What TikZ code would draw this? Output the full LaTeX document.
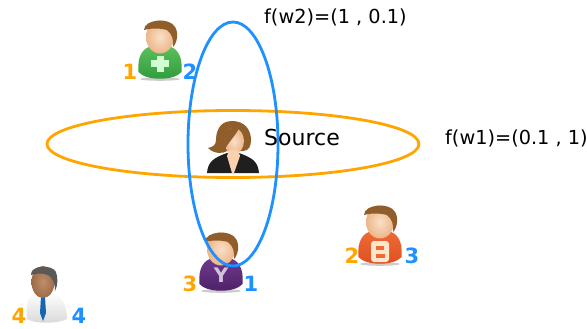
\documentclass[tikz,border=0pt]{standalone}
\usepackage{fontspec}
\setmainfont{DejaVu Sans}
\definecolor{ringorange}{HTML}{FFA500}
\definecolor{ringblue}{HTML}{1E90FF}
\definecolor{hairbrown}{HTML}{8F5E2A}
\definecolor{skin}{HTML}{F8D2AE}
\definecolor{skinedge}{HTML}{EDB68A}
\definecolor{greentop}{HTML}{5CC05C}
\definecolor{greenlow}{HTML}{2E9A3C}
\definecolor{orangetop}{HTML}{EE6A35}
\definecolor{orangelow}{HTML}{DE4E20}
\definecolor{purpletop}{HTML}{6E3A8C}
\definecolor{purplelow}{HTML}{4E2068}
\definecolor{mantan}{HTML}{C08E68}
\definecolor{manedge}{HTML}{9C6B48}
\tikzset{
  ring/.style={line width=2.8pt,draw=#1},
  rank/.style={font=\fontsize{21}{21}\selectfont\bfseries,text=#1,inner sep=0pt},
  caption/.style={font=\fontsize{#1}{#1}\selectfont,text=black,inner sep=0pt,anchor=west}
}
% #1 x, #2 y of head centre, #3 shirt top colour, #4 shirt low colour
\newcommand{\manicon}[4]{%
  \begin{scope}[shift={(#1,#2)}]
    \fill[black!20] (0,41) ellipse[x radius=20,y radius=1.8];
    \shade[top color=#3,bottom color=#4]
      (-21.5,34) .. controls (-23,18) and (-17,9) .. (-7,8)
      -- (7,8) .. controls (17,9) and (23,18) .. (21.5,34)
      .. controls (14,43) and (-14,43) .. (-21.5,34) -- cycle;
    \shade[inner color=skin!70!white,outer color=skinedge]
      (0,-1) ellipse[x radius=14,y radius=16.5];
    \fill[hairbrown]
      (-16,-8) .. controls (-16,-19) and (10,-21) .. (15,-11)
      .. controls (19,-5) and (17,5) .. (13,9)
      .. controls (14,2) and (12,-4) .. (7,-8)
      .. controls (0,-10) and (-9,-10) .. (-16,-8) -- cycle;
  \end{scope}}
\begin{document}
\begin{tikzpicture}[x=1pt,y=-1pt]
\useasboundingbox (0,0) rectangle (587,329);
\fill[white] (0,0) rectangle (587,329);
% green person
\manicon{160}{38}{greentop}{greenlow}
\fill[white!82!green] (156.5,56) rectangle (163.5,72);
\fill[white!82!green] (151,60.5) rectangle (169,67.5);
% blogger person
\manicon{380}{223}{orangetop}{orangelow}
\fill[white!80!orange,rounded corners=3pt] (371,241) rectangle (389,262);
\fill[orangetop] (375.5,246) rectangle (384,250);
\fill[orangetop] (375.5,254) rectangle (384.5,258);
% yahoo person
\manicon{221}{250}{purpletop}{purplelow}
\node[inner sep=0pt,font=\fontsize{20}{20}\selectfont\bfseries,text=white!70!purpletop] (yahoo) at (221,275) {Y};
% man in white shirt
\begin{scope}[shift={(43,283)}]
  \shade[top color=white,bottom color=black!15]
    (-16,36) .. controls (-18,20) and (-14,12) .. (-7,9)
    -- (8,9) .. controls (18,12) and (25,24) .. (24,36)
    .. controls (14,41) and (-8,41) .. (-16,36) -- cycle;
  \fill[ringblue!70!black] (-2,14) -- (2,14) -- (3,30) -- (0,38) -- (-3,30) -- cycle;
  \shade[inner color=mantan,outer color=manedge]
    (0,-1) ellipse[x radius=11.5,y radius=16];
  \fill[black!65]
    (-12,-8) .. controls (-13,-18) and (9,-19) .. (13,-11)
    .. controls (15,-5) and (15,2) .. (12,8)
    .. controls (12,0) and (10,-5) .. (5,-8)
    .. controls (0,-10) and (-7,-10) .. (-12,-8) -- cycle;
\end{scope}
% woman
\begin{scope}[shift={(233,140)}]
  \fill[black!88]
    (-26,33) .. controls (-25,22) and (-20,18) .. (-6,13)
    -- (6,13) .. controls (20,18) and (25,22) .. (26,33) -- cycle;
  \fill[hairbrown]
    (-1,-19) .. controls (-15,-19) and (-17,-6) .. (-17,0)
    .. controls (-17,5) and (-20,7) .. (-25,8)
    .. controls (-19,14) and (-10,14) .. (-6,11)
    -- (10,11) .. controls (16,11) and (18,6) .. (18,0)
    .. controls (18,-10) and (12,-19) .. (-1,-19) -- cycle;
  \shade[inner color=skin!70!white,outer color=skinedge]
    (1,1) ellipse[x radius=10,y radius=13];
  \fill[hairbrown] (-11,-3) .. controls (-7,-11) and (2,-13) .. (7,-14)
    .. controls (4,-6) and (-3,0) .. (-8,9) -- cycle;
  \fill[skin] (-4,10) -- (5,10) -- (7,16) -- (1,33) -- (-1,33) -- (-6,16) -- cycle;
\end{scope}
% rings
\draw[ring=ringorange] (233,144) ellipse[x radius=186,y radius=33.5];
\draw[ring=ringblue] (233,144) ellipse[x radius=45,y radius=122];
% labels
\node[caption=19.3] (fw2) at (264,17) {f(w2)=(1 , 0.1)};
\node[caption=19.3] (fw1) at (445,138.5) {f(w1)=(0.1 , 1)};
\node[caption=22] (source) at (264,137) {Source};
\node[rank=ringorange] (a1) at (130,72) {1};
\node[rank=ringblue]   (b1) at (190,72) {2};
\node[rank=ringorange] (a2) at (352,256) {2};
\node[rank=ringblue]   (b2) at (412,256) {3};
\node[rank=ringorange] (a3) at (190,284) {3};
\node[rank=ringblue]   (b3) at (251,284) {1};
\node[rank=ringorange] (a4) at (19,316) {4};
\node[rank=ringblue]   (b4) at (79,316) {4};
\end{tikzpicture}
\end{document}
